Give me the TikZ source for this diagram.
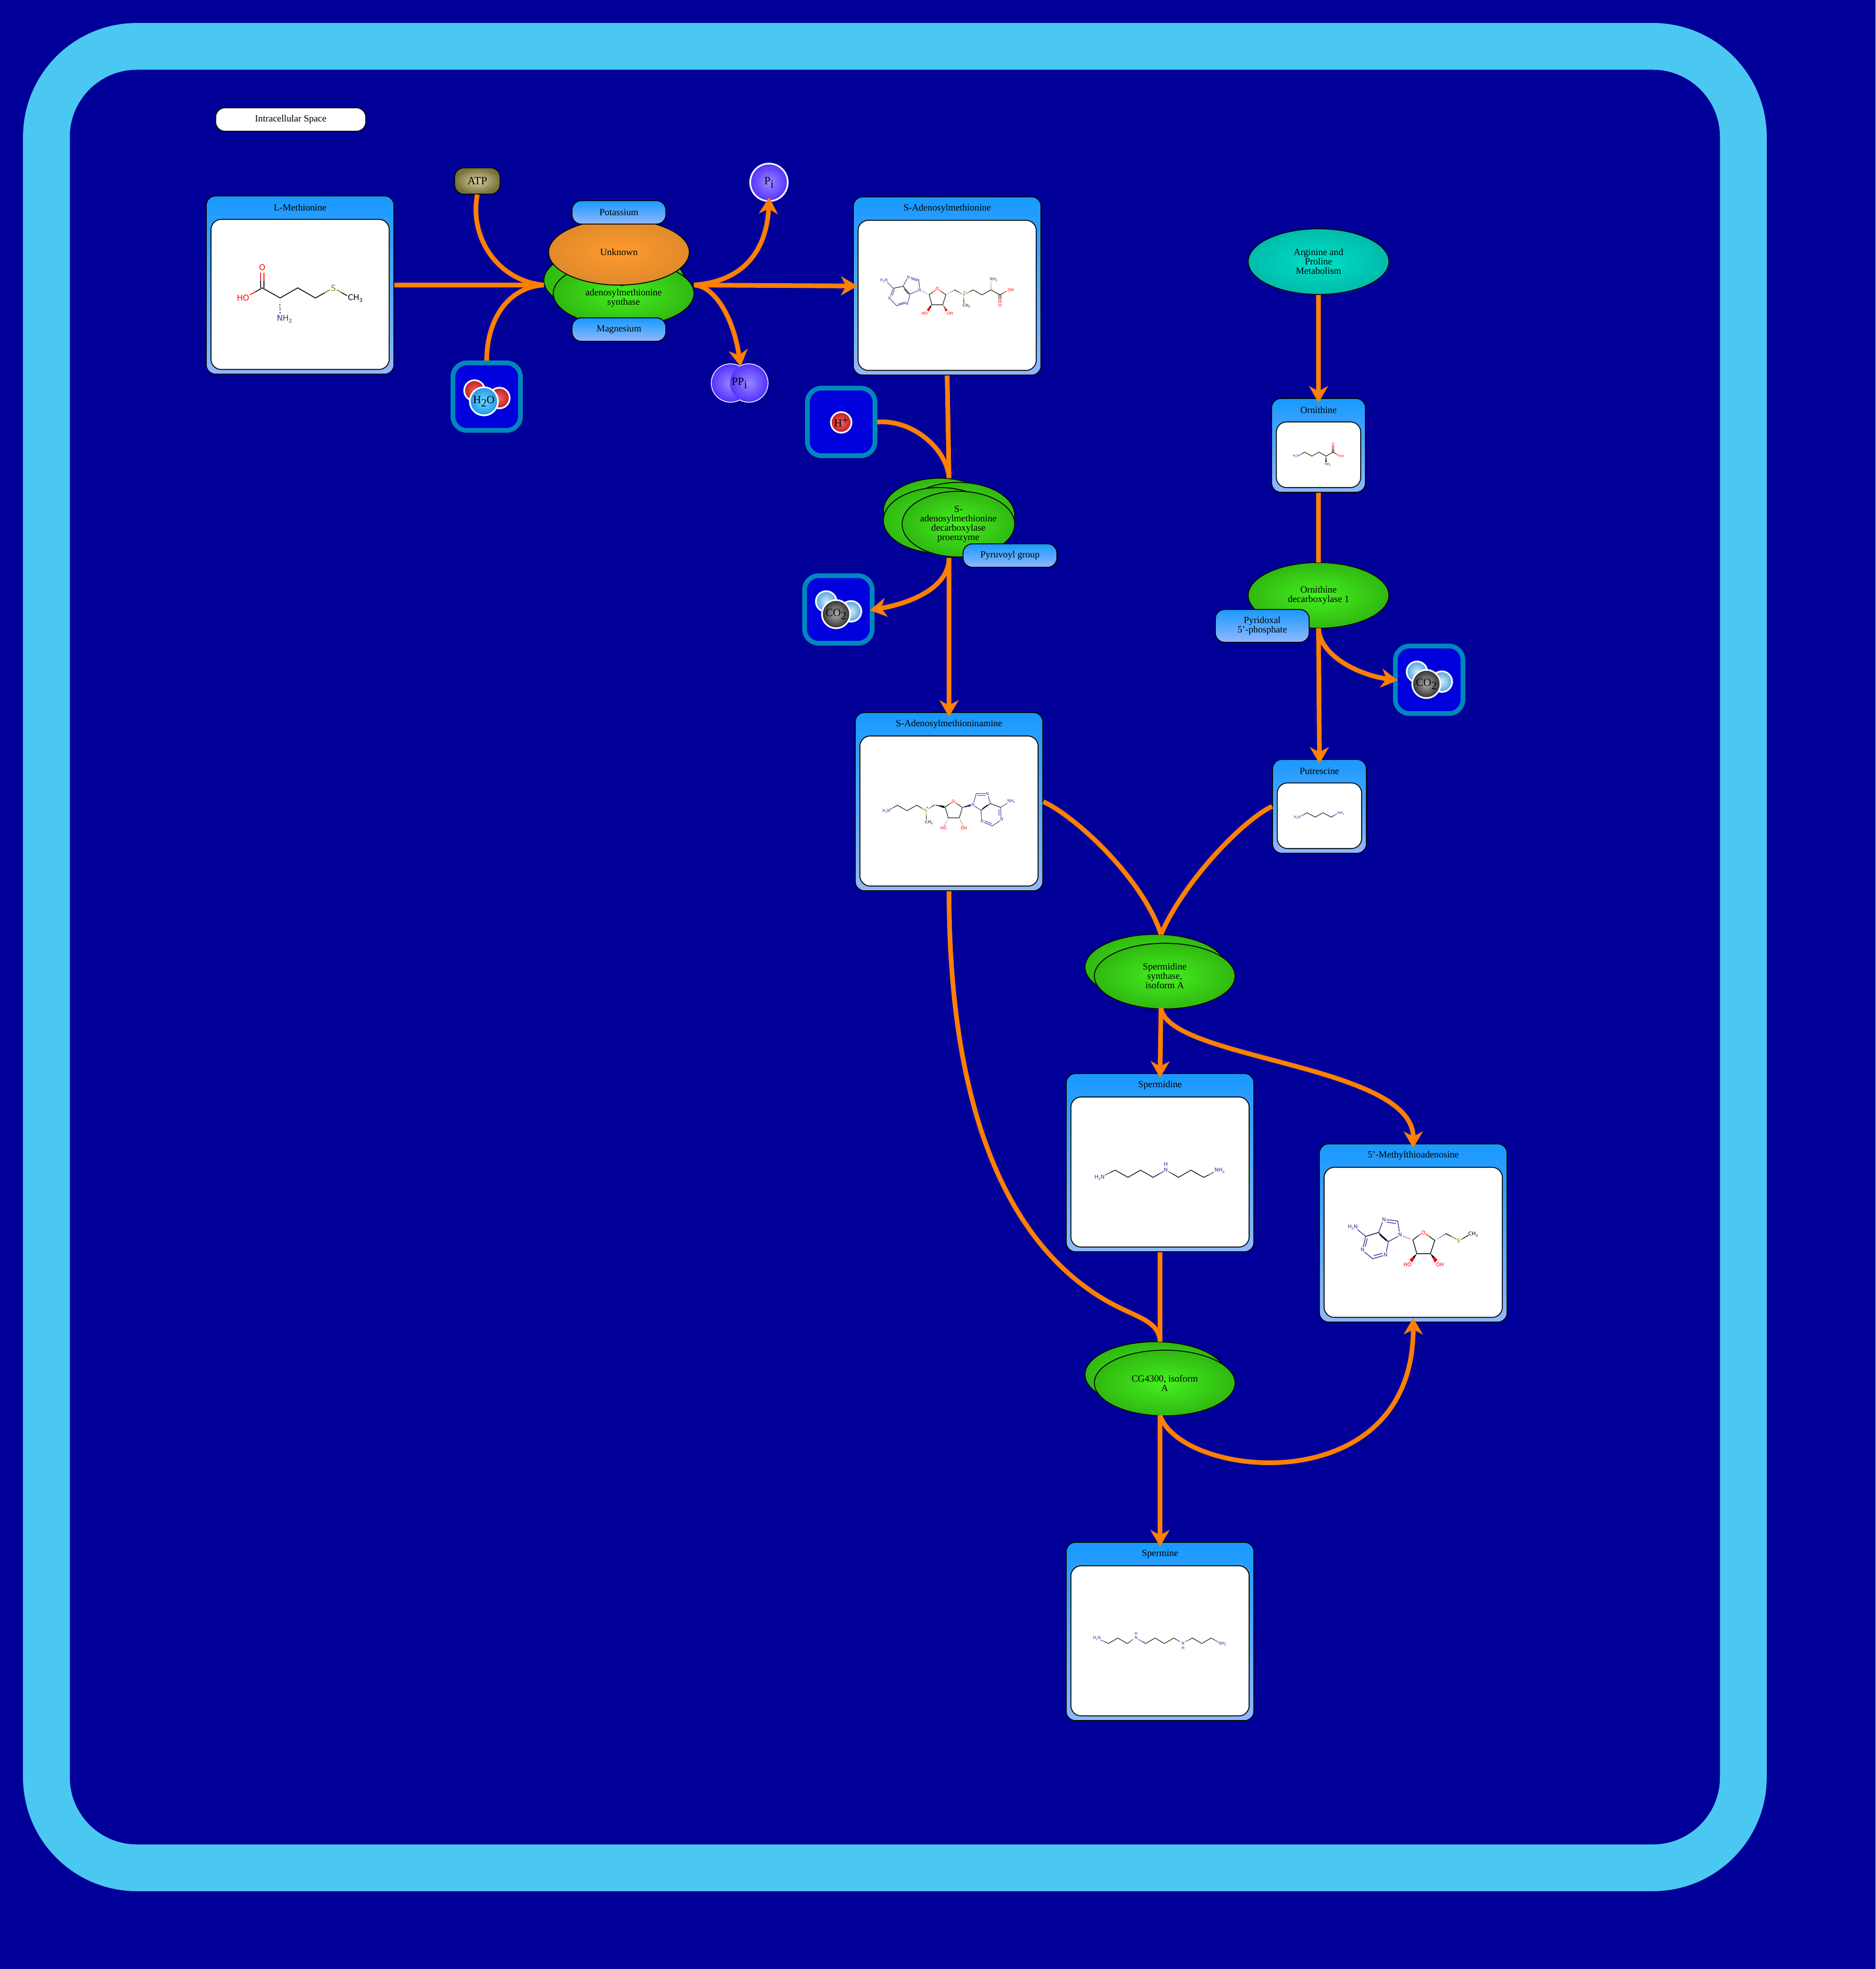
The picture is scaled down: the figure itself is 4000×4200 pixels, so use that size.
\documentclass[tikz,border=0pt]{standalone}
\usepackage{fontspec}
\setmainfont{Liberation Serif}
\newfontfamily\atomface{DejaVu Sans}
\usetikzlibrary{arrows.meta,calc,positioning,shapes.geometric}

\definecolor{pagebg}{HTML}{000099}
\definecolor{cellblue}{HTML}{4AC8F2}
\definecolor{flowcol}{HTML}{FF8000}
\definecolor{boxtop}{HTML}{1899FF}
\definecolor{boxlow}{HTML}{90B8FF}
\definecolor{molred}{HTML}{FF0000}
\definecolor{molblue}{HTML}{333399}
\definecolor{mololive}{HTML}{7F7F00}
\definecolor{enzin}{HTML}{44F020}
\definecolor{enzout}{HTML}{30B810}
\definecolor{unkin}{HTML}{FF9A2E}
\definecolor{unkout}{HTML}{E08A2A}
\definecolor{mapin}{HTML}{00E0C8}
\definecolor{mapout}{HTML}{00BBAA}
\definecolor{ionline}{HTML}{0088BB}
\definecolor{ionfill}{HTML}{0000DD}
\definecolor{redin}{HTML}{F06060}
\definecolor{redout}{HTML}{BE2020}
\definecolor{palein}{HTML}{D6EAF8}
\definecolor{paleout}{HTML}{50A5E1}
\definecolor{greyin}{HTML}{B0B0B0}
\definecolor{greyout}{HTML}{303030}
\definecolor{waterin}{HTML}{6EDCFF}
\definecolor{waterout}{HTML}{2096EB}
\definecolor{purpin}{HTML}{9688FF}
\definecolor{purpout}{HTML}{5532FF}
\definecolor{atpin}{HTML}{D8D0A0}
\definecolor{atpout}{HTML}{77703A}

\newcommand{\atomtext}[1]{\atomface\fontsize{#1}{#1}\selectfont}
\newcommand{\lowr}[1]{\raisebox{-0.25em}{\scalebox{0.65}{#1}}}
\newcommand{\hashbond}[5]{\foreach \t in {#4} {\draw[bond,#5] ($#1!\t!#2!\t*#3!90:#2$) -- ($#1!\t!#2!\t*#3!-90:#2$);}}

\tikzset{
  labeltext/.style={font=\fontsize{5.75}{5.7}\selectfont, align=center},
  molbox/.style={rectangle, draw=black, line width=0.55pt, rounded corners=0.2cm, top color=boxtop, bottom color=boxlow, inner sep=0pt, minimum width=4cm, minimum height=3.8cm},
  smallbox/.style={molbox, minimum width=2cm, minimum height=2cm},
  molwin/.style={rectangle, draw=black, line width=0.55pt, rounded corners=0.22cm, fill=white, inner sep=0pt, minimum width=3.8cm, minimum height=3.2cm},
  smallwin/.style={molwin, minimum width=1.8cm, minimum height=1.4cm},
  molname/.style={labeltext, inner sep=0pt},
  cofactor/.style={rectangle, labeltext, draw=black, line width=0.55pt, rounded corners=0.2cm, top color=boxtop, bottom color=boxlow, inner sep=0pt, minimum width=2cm, minimum height=0.5cm},
  enzyme/.style={ellipse, labeltext, draw=black, line width=0.55pt, inner color=enzin, outer color=enzout, inner sep=0pt, minimum width=3cm, minimum height=1.4cm},
  smallenz/.style={enzyme, minimum width=2.4cm},
  ionbox/.style={rectangle, draw=ionline, line width=2.83pt, rounded corners=0.3cm, fill=ionfill, inner sep=0pt, minimum size=1.44cm},
  ball/.style={circle, draw=white, line width=1pt, inner sep=0pt, font=\fontsize{6.7}{7}\selectfont},
  redball/.style={ball, inner color=redin, outer color=redout, minimum size=0.44cm},
  paleball/.style={ball, inner color=palein, outer color=paleout, minimum size=0.44cm},
  greyball/.style={ball, inner color=greyin, outer color=greyout, minimum size=0.6cm},
  waterball/.style={ball, inner color=waterin, outer color=waterout, minimum size=0.6cm},
  purpleball/.style={ball, inner color=purpin, outer color=purpout, minimum size=0.8cm},
  flow/.style={draw=flowcol, line width=2.83pt},
  flowarrow/.style={flow, shorten >=-2.83pt, -{Stealth[length=10pt,width=11.5pt,inset=3pt]}},
  bond/.style={line width=0.3pt},
  atom/.style={inner sep=0pt},
  redatom/.style={atom, text=molred},
  blueatom/.style={atom, text=molblue},
  oliveatom/.style={atom, text=mololive}
}

\begin{document}
\begin{tikzpicture}[x=0.01cm,y=-0.01cm]
        \fill[pagebg] (0,0) rectangle (4000,4200);
        \useasboundingbox (0,0) rectangle (4000,4200);
        \node[rectangle, draw=cellblue, line width=28.35pt, rounded corners=1.93cm, minimum width=36.17cm, minimum height=38.83cm] (cell) at (1908.5,2041.5) {};
        \node[rectangle, labeltext, draw=black, line width=0.55pt, fill=white, rounded corners=0.2cm, minimum width=3.2cm, minimum height=0.5cm] (space) at (620,255) {Intracellular Space};
        % metabolite boxes
        \node[molbox] (met) at (640,608) {};
        \node[molwin] (metwin) at (640,628) {};
        \node[molname] (metname) at (640,443) {L-Methionine};
        \node[molbox] (sam) at (2020,610) {};
        \node[molwin] (samwin) at (2020,630) {};
        \node[molname] (samname) at (2020,445) {S-Adenosylmethionine};
        \node[molbox] (samn) at (2024,1710) {};
        \node[molwin] (samnwin) at (2024,1730) {};
        \node[molname] (samnname) at (2024,1545) {S-Adenosylmethioninamine};
        \node[molbox] (mta) at (3014,2630) {};
        \node[molwin] (mtawin) at (3014,2650) {};
        \node[molname] (mtaname) at (3014,2465) {5'-Methylthioadenosine};
        \node[molbox] (spd) at (2474,2480) {};
        \node[molwin] (spdwin) at (2474,2500) {};
        \node[molname] (spdname) at (2474,2315) {Spermidine};
        \node[molbox] (spm) at (2474,3480) {};
        \node[molwin] (spmwin) at (2474,3500) {};
        \node[molname] (spmname) at (2474,3315) {Spermine};
        \node[smallbox] (orn) at (2812,950) {};
        \node[smallwin] (ornwin) at (2812,970) {};
        \node[molname] (ornname) at (2812,875) {Ornithine};
        \node[smallbox] (put) at (2814,1720) {};
        \node[smallwin] (putwin) at (2814,1740) {};
        \node[molname] (putname) at (2814,1645) {Putrescine};
        % enzymes
        \node[enzyme] (metsynb) at (1310,598) {};
        \node[enzyme] (metsyn) at (1330,626) {S-\\adenosylmethionine\\synthase};
        \node[enzyme, inner color=unkin, outer color=unkout] (unknown) at (1320,538) {Unknown};
        \node[cofactor] (potass) at (1320,453) {Potassium};
        \node[cofactor] (magnes) at (1320,703) {Magnesium};
        \node[smallenz] (samdca) at (2004,1090) {};
        \node[smallenz] (samdcb) at (2044,1099) {};
        \node[smallenz] (samdcc) at (2004,1110) {};
        \node[smallenz] (samdc) at (2044,1118) {S-\\adenosylmethionine\\decarboxylase\\proenzyme};
        \node[cofactor] (pyruv) at (2154,1185) {Pyruvoyl group};
        \node[enzyme, inner color=mapin, outer color=mapout] (argpro) at (2812,558) {Arginine and\\Proline\\Metabolism};
        \node[enzyme] (odc) at (2812,1270) {Ornithine\\decarboxylase 1};
        \node[cofactor, minimum height=0.7cm] (pyrid) at (2692,1335) {Pyridoxal\\5'-phosphate};
        \node[enzyme] (spdsyna) at (2464,2063) {};
        \node[enzyme] (spdsyn) at (2484,2082) {Spermidine\\synthase,\\isoform A};
        \node[enzyme] (cgb) at (2464,2932) {};
        \node[enzyme] (cg) at (2484,2950) {CG4300, isoform\\A};
        % small molecules
        \node[rectangle, draw=black, line width=0.55pt, rounded corners=0.2cm, inner color=atpin, outer color=atpout, font=\fontsize{6.7}{7}\selectfont, inner sep=0pt, minimum width=0.97cm, minimum height=0.56cm] (atp) at (1018,386) {ATP};
        \node[ionbox] (water) at (1038,846) {};
        \node[redball] (watera) at (1012,833) {};
        \node[redball] (waterb) at (1065,849) {};
        \node[waterball] (waterc) at (1032,856) {H\raisebox{-2pt}{2}O};
        \node[purpleball] (pi) at (1640,389) {P\raisebox{-2pt}{i}};
        \node[purpleball] (ppia) at (1558,817) {};
        \node[purpleball] (ppib) at (1597,817) {};
        \node[purpleball, draw=none] (ppic) at (1558,817) {};
        \node[purpleball, draw=none] (ppid) at (1597,817) {};
        \node[ball, draw=none] (ppitext) at (1577,817) {PP\raisebox{-2pt}{i}};
        \node[ionbox] (hplus) at (1794,900) {};
        \node[redball] (hball) at (1794,901) {H\raisebox{1.6pt}{+}};
        \node[ionbox] (co2a) at (1788,1300) {};
        \node[paleball] (co2aa) at (1762,1283) {};
        \node[paleball] (co2ab) at (1815,1304) {};
        \node[greyball] (co2ac) at (1783,1310) {CO\raisebox{-2pt}{2}};
        \node[ionbox] (co2b) at (3048,1450) {};
        \node[paleball] (co2ba) at (3022,1433) {};
        \node[paleball] (co2bb) at (3075,1454) {};
        \node[greyball] (co2bc) at (3042,1459) {CO\raisebox{-2pt}{2}};
        % molecule drawings, coordinates are in crop pixels
        \begin{scope}[shift={(430,410)},scale=1/3,nodes={font=\atomtext{4.8}},bond/.style={line width=0.5pt}]
          \node[redatom] (metO) at (388,480) {O};
          \node[redatom] (metHO) at (265,677) {HO};
          \node[oliveatom] (metS) at (843,612) {S};
          \node[atom] (metCH) at (983,680) {CH\lowr{3}};
          \node[blueatom] (metNH) at (530,810) {NH\lowr{2}};
          \draw[bond] (345,637) -- (388,612) -- (502,677) -- (615,612) -- (728,677) -- (785,645) (895,642) -- (930,662) (377,612) -- (377,565) (399,612) -- (399,565);
          \draw[bond,molred] (345,637) -- (308,657) (377,565) -- (377,515) (399,565) -- (399,515);
          \draw[bond,mololive] (785,645) -- (820,625) (865,625) -- (895,642);
          \hashbond{(502,677)}{(502,775)}{1.6pt}{0.15,0.3,0.45,0.6}{black}
          \hashbond{(502,677)}{(502,775)}{1.6pt}{0.75,0.95}{molblue}
        \end{scope}
        \begin{scope}[shift={(1800,400)},scale=1/3,nodes={font=\atomtext{2.4}}]
          \node[blueatom] (samNa) at (255,594) {H\lowr{2}N};
          \node[blueatom] (samNb) at (292,708) {N};
          \node[blueatom] (samNc) at (403,743) {N};
          \node[blueatom] (samNd) at (412,573) {N};
          \node[blueatom] (samNe) at (484,654) {N};
          \node[redatom] (samOa) at (597,647) {O};
          \node[redatom] (samOb) at (516,804) {HO};
          \node[redatom] (samOc) at (678,806) {OH};
          \node[oliveatom] (samS) at (767,686) {S};
          \node[atom] (samPlus) at (772,668) {\scalebox{0.7}{+}};
          \node[atom] (samCH) at (783,757) {CH\lowr{3}};
          \node[blueatom] (samNf) at (957,590) {NH\lowr{2}};
          \node[redatom] (samOd) at (1068,654) {OH};
          \node[redatom] (samOe) at (998,755) {O};
          \draw[bond] (378,632) -- (422,682) (385,650) -- (413,682) (378,632) -- (315,645) (570,667) -- (545,686) -- (562,750) -- (632,750) -- (652,686) -- (625,667) (708,655) -- (735,670) (800,668) -- (826,655) -- (883,687) -- (940,655) -- (998,687) -- (1020,675) (767,720) -- (767,740) (992,687) -- (992,712) (1004,687) -- (1004,712);
          \draw[bond,molblue] (276,606) -- (315,645) -- (297,697) (310,690) -- (322,652) (300,718) -- (337,757) -- (393,740) (345,747) -- (390,733) (422,682) -- (410,733) (378,632) -- (403,585) (425,575) -- (478,590) -- (484,643) (430,585) -- (470,597) (475,660) -- (422,682);
          \draw[bond,molred] (570,667) -- (587,655) (607,655) -- (625,667) (1020,675) -- (1040,663) (992,712) -- (992,738) (1004,712) -- (1004,738);
          \draw[bond,mololive] (735,670) -- (755,682) (767,702) -- (767,720) (780,680) -- (800,668);
          \fill (562,750) -- (544,765) -- (553,772) -- cycle (632,750) -- (641,765) -- (651,772) -- cycle;
          \fill[molred] (544,765) -- (530,783) -- (543,793) -- (553,772) -- cycle (641,765) -- (651,772) -- (664,785) -- (649,793) -- cycle;
          \hashbond{(545,686)}{(498,662)}{0.8pt}{0.15,0.3,0.45}{black}
          \hashbond{(545,686)}{(498,662)}{0.8pt}{0.6,0.75,0.9}{molblue}
          \hashbond{(652,686)}{(708,655)}{0.8pt}{0.15,0.3,0.45,0.6,0.75,0.95}{black}
          \hashbond{(940,655)}{(940,605)}{0.8pt}{0.15,0.3,0.45}{black}
          \hashbond{(940,655)}{(940,605)}{0.8pt}{0.6,0.75,0.95}{molblue}
        \end{scope}
        \begin{scope}[shift={(1810,1510)},scale=1/3,nodes={font=\atomtext{2.45}}]
          \node[blueatom] (samnNa) at (240,660) {H\lowr{2}N};
          \node[oliveatom] (samnS) at (494,657) {S};
          \node[atom] (samnPlus) at (503,638) {\scalebox{0.7}{+}};
          \node[atom] (samnCH) at (513,732) {CH\lowr{3}};
          \node[redatom] (samnOa) at (670,597) {O};
          \node[redatom] (samnOb) at (607,769) {HO};
          \node[redatom] (samnOc) at (737,769) {OH};
          \node[blueatom] (samnNb) at (795,618) {N};
          \node[blueatom] (samnNc) at (888,550) {N};
          \node[blueatom] (samnNd) at (853,725) {N};
          \node[blueatom] (samnNe) at (980,712) {N};
          \node[blueatom] (samnNf) at (1040,598) {NH\lowr{2}};
          \draw[bond] (287,637) -- (312,623) -- (373,658) -- (435,623) -- (470,643) (497,693) -- (497,712) (530,633) -- (550,620) (617,635) -- (645,615) (695,615) -- (727,637) -- (708,703) -- (637,703) -- (617,635) (907,612) -- (972,637) (907,612) -- (847,655) (890,620) -- (855,645);
          \draw[bond,molblue] (262,650) -- (287,637) (800,605) -- (817,548) -- (878,548) (825,560) -- (875,560) (893,565) -- (907,612) (847,655) -- (805,628) (847,655) -- (850,712) (865,732) -- (918,755) -- (968,722) (870,722) -- (915,742) (975,700) -- (972,637) -- (1015,610) (962,690) -- (962,650);
          \draw[bond,molred] (645,615) -- (660,605) (680,605) -- (695,615);
          \draw[bond,mololive] (470,643) -- (485,652) (497,675) -- (497,693) (510,645) -- (530,633);
          \fill (550,620) -- (613,627) -- (613,642) -- cycle (727,637) -- (752,627) -- (755,634) -- cycle;
          \fill[molblue] (752,627) -- (778,615) -- (782,630) -- (755,634) -- cycle;
          \hashbond{(637,703)}{(613,755)}{0.9pt}{0.15,0.3}{black}
          \hashbond{(637,703)}{(613,755)}{0.9pt}{0.45,0.6,0.75,0.95}{molred}
          \hashbond{(708,703)}{(732,755)}{0.9pt}{0.15,0.3}{black}
          \hashbond{(708,703)}{(732,755)}{0.9pt}{0.45,0.6,0.75,0.95}{molred}
        \end{scope}
        \begin{scope}[shift={(2800,2430)},scale=1/3,nodes={font=\atomtext{3.1}},bond/.style={line width=0.42pt}]
          \node[blueatom] (mtaNa) at (255,565) {H\lowr{2}N};
          \node[blueatom] (mtaNb) at (318,707) {N};
          \node[blueatom] (mtaNc) at (465,740) {N};
          \node[blueatom] (mtaNd) at (455,515) {N};
          \node[blueatom] (mtaNe) at (558,610) {N};
          \node[redatom] (mtaOa) at (707,598) {O};
          \node[redatom] (mtaOb) at (605,802) {HO};
          \node[redatom] (mtaOc) at (813,802) {OH};
          \node[oliveatom] (mtaS) at (932,650) {S};
          \node[atom] (mtaCH) at (1025,608) {CH\lowr{3}};
          \draw[bond] (338,622) -- (420,597) -- (483,655) (425,610) -- (470,650) (670,620) -- (640,645) -- (665,732) -- (752,732) -- (780,648) -- (745,622) (853,605) -- (885,622) (960,635) -- (995,615);
          \draw[bond,molblue] (285,578) -- (338,622) -- (322,690) (335,688) -- (348,635) (483,655) -- (470,722) (450,745) -- (383,765) -- (330,722) (445,730) -- (390,745) (420,597) -- (445,532) (472,515) -- (542,523) -- (553,590) (472,530) -- (530,540) (545,622) -- (483,655);
          \draw[bond,molred] (670,620) -- (692,607) (722,607) -- (745,622);
          \draw[bond,mololive] (885,622) -- (918,640) (945,643) -- (960,635);
          \fill (665,732) -- (640,752) -- (650,762) -- cycle (752,732) -- (767,762) -- (778,752) -- cycle;
          \fill[molred] (640,752) -- (618,772) -- (635,788) -- (650,762) -- cycle (767,762) -- (778,752) -- (797,772) -- (780,790) -- cycle;
          \hashbond{(640,645)}{(575,620)}{1pt}{0.15,0.3,0.45}{black}
          \hashbond{(640,645)}{(575,620)}{1pt}{0.6,0.75,0.9}{molblue}
          \hashbond{(780,648)}{(853,605)}{1pt}{0.12,0.24,0.36,0.48,0.6,0.72,0.84,0.96}{black}
        \end{scope}
        \begin{scope}[shift={(2260,2270)},scale=1/3,nodes={font=\atomtext{3.2}},bond/.style={line width=0.4pt}]
          \node[blueatom] (spdNa) at (255,725) {H\lowr{2}N};
          \node[blueatom] (spdNb) at (679,677) {N};
          \node[blueatom] (spdH) at (679,640) {H};
          \node[blueatom] (spdNc) at (1023,680) {NH\lowr{2}};
          \draw[bond] (322,694) -- (355,678) -- (437,724) -- (517,678) -- (598,724) -- (640,700) (720,700) -- (760,724) -- (840,678) -- (921,724) -- (955,708);
          \draw[bond,molblue] (290,710) -- (322,694) (640,700) -- (665,687) (695,687) -- (720,700) (955,708) -- (985,690);
        \end{scope}
        \begin{scope}[shift={(2260,3280)},scale=1/3,nodes={font=\atomtext{2.4}}]
          \node[blueatom] (spmNa) at (238,642) {H\lowr{2}N};
          \node[blueatom] (spmNb) at (489,640) {N};
          \node[blueatom] (spmHa) at (489,613) {H};
          \node[blueatom] (spmNc) at (789,677) {N};
          \node[blueatom] (spmHb) at (789,705) {H};
          \node[blueatom] (spmNd) at (1042,680) {NH\lowr{2}};
          \draw[bond] (287,665) -- (312,677) -- (372,642) -- (432,677) -- (450,665) (527,664) -- (550,677) -- (610,642) -- (670,677) -- (730,642) -- (750,654) (827,654) -- (849,642) -- (909,677) -- (969,642) -- (992,655);
          \draw[bond,molblue] (262,655) -- (287,665) (450,665) -- (470,650) (503,650) -- (527,664) (750,654) -- (770,665) (805,665) -- (827,654) (992,655) -- (1015,668);
        \end{scope}
        \begin{scope}[shift={(2700,850)},scale=1/3,nodes={font=\atomtext{1.9}}]
          \node[blueatom] (ornNa) at (192,370) {H\lowr{2}N};
          \node[blueatom] (ornNb) at (396,423) {NH\lowr{2}};
          \node[redatom] (ornO) at (430,290) {O};
          \node[redatom] (ornOH) at (483,369) {OH};
          \draw[bond] (230,354) -- (247,343) -- (293,369) -- (339,343) -- (384,369) -- (430,343) -- (447,354) (425,343) -- (425,322) (434,343) -- (434,322);
          \draw[bond,molblue] (213,365) -- (230,354);
          \draw[bond,molred] (447,354) -- (465,365) (425,322) -- (425,300) (434,322) -- (434,300);
          \fill (384,369) -- (381,388) -- (387,388) -- cycle;
          \fill[molblue] (381,388) -- (378,407) -- (390,407) -- (387,388) -- cycle;
        \end{scope}
        \begin{scope}[shift={(2700,1620)},scale=1/3,nodes={font=\atomtext{2.1}}]
          \node[blueatom] (putNa) at (200,371) {H\lowr{2}N};
          \node[blueatom] (putNb) at (480,344) {NH\lowr{2}};
          \draw[bond] (244,351) -- (263,341) -- (315,369) -- (365,341) -- (417,369) -- (436,358);
          \draw[bond,molblue] (225,362) -- (244,351) (436,358) -- (455,347);
        \end{scope}
        % junction points
        \coordinate (metin) at (1160,608);
        \coordinate (metout) at (1480,608);
        \coordinate (samdcin) at (2024,1020);
        \coordinate (samdcout) at (2024,1190);
        \coordinate (odcin) at (2812,1200);
        \coordinate (odcout) at (2812,1340);
        \coordinate (spdin) at (2476,1993);
        \coordinate (spdout) at (2476,2150);
        \coordinate (cgin) at (2474,2862);
        \coordinate (cgout) at (2474,3019);
        \coordinate (ppitop) at (1578,772);
        \coordinate (cgbend) at (2357,2773);
        % connectors
        \draw[flow] (met) -- (metin);
        \draw[flow] (atp.south) .. controls (1000,510) and (1065,600) .. (metin);
        \draw[flow] (water.north) .. controls (1038,680) and (1085,612) .. (metin);
        \draw[flowarrow] (metout) -- (sam.west);
        \draw[flowarrow] (metout) .. controls (1590,600) and (1635,530) .. (pi.south);
        \draw[flowarrow] (metout) .. controls (1525,610) and (1565,680) .. (ppitop);
        \draw[flow] (sam.south) -- (samdcin);
        \draw[flow] (hplus.east) .. controls (1950,895) and (2020,960) .. (samdcin);
        \draw[flowarrow] (samdcout) -- (samn.north);
        \draw[flowarrow] (samdcout) .. controls (2024,1250) and (1950,1285) .. (co2a.east);
        \draw[flowarrow] (argpro.south) -- (orn.north);
        \draw[flow] (orn.south) -- (odcin);
        \draw[flowarrow] (odcout) -- (put.north);
        \draw[flowarrow] (odcout) .. controls (2815,1400) and (2900,1440) .. (co2b.west);
        \draw[flow] (samn.east) .. controls (2300,1745) and (2440,1880) .. (spdin);
        \draw[flow] (put.west) .. controls (2650,1750) and (2525,1880) .. (spdin);
        \draw[flowarrow] (spdout) -- (spd.north);
        \draw[flowarrow] (spdout) .. controls (2490,2260) and (3014,2270) .. (mta.north);
        \draw[flow] (spd.south) -- (cgin);
        \draw[flow] (samn.south) .. controls (2024,2330) and (2130,2640) .. (cgbend) .. controls (2420,2810) and (2472,2815) .. (cgin);
        \draw[flowarrow] (cgout) -- (spm.north);
        \draw[flowarrow] (cgout) .. controls (2520,3155) and (3014,3205) .. (mta.south);
\end{tikzpicture}
\end{document}
